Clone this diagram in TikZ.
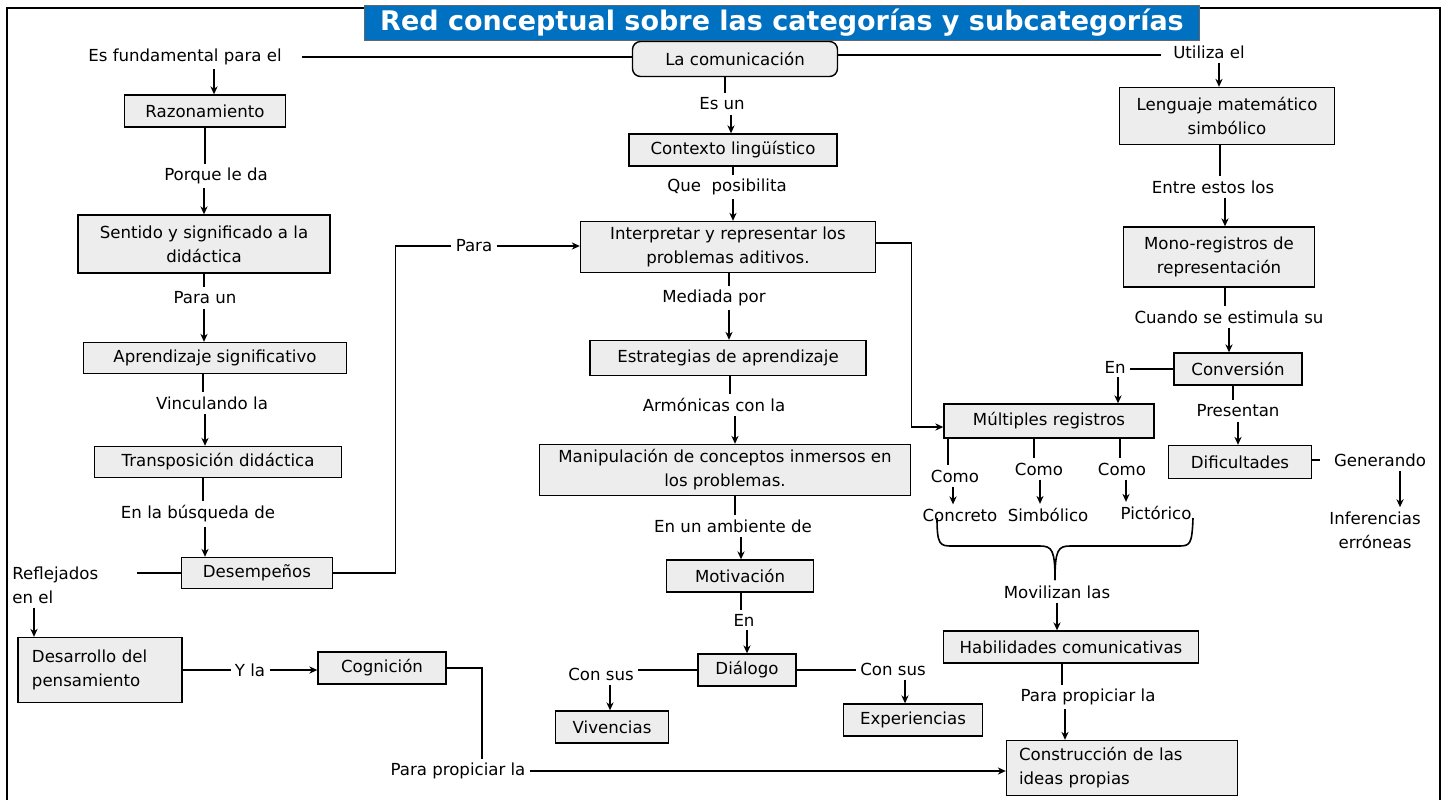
\documentclass[tikz,border=0pt]{standalone}
\usepackage{fontspec}
\setmainfont{DejaVu Sans}
\usetikzlibrary{arrows.meta}
\definecolor{boxgray}{HTML}{EDEDED}
\definecolor{titleblue}{HTML}{0070C0}
\begin{document}
\begin{tikzpicture}[x=0.5pt,y=-0.5pt,
 every node/.style={font=\fontsize{8.3}{12}\selectfont, inner sep=2pt},
 box/.style={draw, fill=boxgray, line width=0.7pt, align=center},
 lbl/.style={align=center},
 con/.style={line width=0.6pt},
 arr/.style={line width=0.6pt, -{Stealth[length=4pt,width=3.6pt]}},
 sz/.style 2 args={minimum width=#1*0.5pt, minimum height=#2*0.5pt},
]
\useasboundingbox (0,0) rectangle (1450,800);
\draw[line width=0.8pt] (7,800) -- (7,8) -- (1440,8) -- (1440,800);
\node[fill=titleblue, draw=black!60, line width=0.6pt, sz={835}{35}, text=white, font=\fontsize{13.5}{15}\selectfont\bfseries] (title) at (782,23) {Red conceptual sobre las categorías y subcategorías};

% boxes
\node[box, rounded corners=4pt, sz={205}{35}] (com) at (735,59) {La comunicación};
\node[box, sz={161}{32}] (raz) at (205,111) {Razonamiento};
\node[box, sz={252}{58}] (sen) at (204,244) {Sentido y significado a la\\didáctica};
\node[box, sz={263}{31}] (apr) at (215,358) {Aprendizaje significativo};
\node[box, sz={247}{31}] (tra) at (218,462) {Transposición didáctica};
\node[box, sz={151}{31}] (des) at (257,573) {Desempeños};
\node[box, sz={164}{65}, align=left, inner xsep=7pt, text width=68pt] (dpe) at (100,670) {Desarrollo del\\pensamiento};
\node[box, sz={128}{32}] (cog) at (382,668) {Cognición};
\node[box, sz={208}{32}] (ctx) at (733,150) {Contexto lingüístico};
\node[box, sz={295}{51}] (int) at (728,247) {Interpretar y representar los\\problemas aditivos.};
\node[box, sz={276}{35}] (est) at (728,358) {Estrategias de aprendizaje};
\node[box, sz={371}{51}] (man) at (725,470) {Manipulación de conceptos inmersos en\\los problemas.};
\node[box, sz={147}{32}] (mot) at (740,576) {Motivación};
\node[box, sz={98}{32}] (dia) at (747,670) {Diálogo};
\node[box, sz={113}{32}] (viv) at (612,727) {Vivencias};
\node[box, sz={139}{32}] (exp) at (913,720) {Experiencias};
\node[box, sz={215}{57}] (len) at (1227,116) {Lenguaje matemático\\simbólico};
\node[box, sz={191}{60}] (mon) at (1219,257) {Mono-registros de\\representación};
\node[box, sz={128}{32}] (conv) at (1238,369) {Conversión};
\node[box, sz={210}{34}] (mul) at (1049,421) {Múltiples registros};
\node[box, sz={143}{33}] (dif) at (1240,462) {Dificultades};
\node[box, sz={255}{32}] (hab) at (1071,647) {Habilidades comunicativas};
\node[box, sz={231}{55}, align=left, inner xsep=6pt, text width=103pt] (cons) at (1122,768) {Construcción de las\\ideas propias};

% labels
\node[lbl] (l1) at (185,57) {Es fundamental para el};
\node[lbl] (l2) at (216,176) {Porque le da};
\node[lbl] (l3) at (205,298) {Para un};
\node[lbl] (l4) at (212,403) {Vinculando la};
\node[lbl] (l5) at (198,514) {En la búsqueda de};
\node[lbl] (l6) at (474,246) {Para};
\node[lbl, align=left, anchor=north west] (l7) at (8,562) {Reflejados\\en el};
\node[lbl] (l8) at (250,670) {Y la};
\node[lbl] (l9) at (458,771) {Para propiciar la};
\node[lbl] (r1) at (722,104) {Es un};
\node[lbl] (r2) at (727,187) {Que\ \ posibilita};
\node[lbl] (r3) at (714,298) {Mediada por};
\node[lbl] (r4) at (714,405) {Armónicas con la};
\node[lbl] (r5) at (733,526) {En un ambiente de};
\node[lbl] (r6) at (744,620) {En};
\node[lbl] (r7) at (601,674) {Con sus};
\node[lbl] (r8) at (893,669) {Con sus};
\node[lbl] (u1) at (1209,52) {Utiliza el};
\node[lbl] (u2) at (1213,187) {Entre estos los};
\node[lbl] (u3) at (1229,317) {Cuando se estimula su};
\node[lbl] (u4) at (1115,367) {En};
\node[lbl] (u5) at (1238,411) {Presentan};
\node[lbl] (u6) at (1380,460) {Generando};
\node[lbl] (u7) at (1375,530) {Inferencias\\erróneas};
\node[lbl] (c1) at (955,476) {Como};
\node[lbl] (c2) at (1039,469) {Como};
\node[lbl] (c3) at (1122,469) {Como};
\node[lbl] (k1) at (960,515) {Concreto};
\node[lbl] (k2) at (1048,515) {Simbólico};
\node[lbl] (k3) at (1156,513) {Pictórico};
\node[lbl] (m1) at (1057,592) {Movilizan las};
\node[lbl] (p1) at (1088,697) {Para propiciar la};

% coordinates
\coordinate (rj) at (137,573);
\coordinate (cg) at (482,664);
\coordinate (bl) at (937,518);
\coordinate (br) at (1193,518);
\coordinate (bt) at (1055,580);

% left column
\draw[con] ([yshift=1pt]com.west) -- ([yshift=1pt,xshift=8pt]com.west -| l1.east);
\draw[arr] (l1.south -| 214,0) -- (raz.north -| 214,0);
\draw[con] (raz.south) -- (raz.south |- l2.north);
\draw[arr] (l2.south -| sen.north) -- (sen.north);
\draw[con] (sen.south) -- (sen.south |- l3.north);
\draw[arr] (l3.south -| sen.south) -- (sen.south |- apr.north);
\draw[con] (apr.south -| 203,0) -- (l4.north -| 203,0);
\draw[arr] (l4.south -| 205,0) -- (tra.north -| 205,0);
\draw[con] (tra.south -| 203,0) -- (l5.north -| 203,0);
\draw[arr] (l5.south -| 205,0) -- (des.north -| 205,0);
\draw[con] (des.east) -- ++(62,0) |- (l6.west);
\draw[arr] (l6.east) -- (l6.east -| int.west);
\draw[con] (des.west) -- (rj);
\draw[arr] ([xshift=13pt]l7.south west) -- ([xshift=13pt]l7.south west |- dpe.north);
\draw[con] (dpe.east) -- (dpe.east -| l8.west);
\draw[arr] (l8.east) -- (l8.east -| cog.west);
\draw[con] (cog.east) -- (cog.east -| cg) -- (cg |- l9.north);
\draw[arr] (l9.east) -- (l9.east -| cons.west);

% middle column
\draw[con] (com.south -| 725,0) -- (r1.north -| 725,0);
\draw[arr] (r1.south -| 731,0) -- (ctx.north -| 731,0);
\draw[con] (ctx.south) -- (ctx.south |- r2.north);
\draw[arr] (r2.south -| ctx.south) -- (ctx.south |- int.north);
\draw[con] (int.south -| 729,0) -- (r3.north -| 729,0);
\draw[arr] (r3.south -| 729,0) -- (est.north -| 729,0);
\draw[con] (est.south -| 730,0) -- (r4.north -| 730,0);
\draw[arr] (r4.south -| 735,0) -- (man.north -| 735,0);
\draw[con] (man.south -| 735,0) -- (r5.north -| 735,0);
\draw[arr] (r5.south -| 741,0) -- (mot.north -| 741,0);
\draw[con] (mot.south -| 741,0) -- (r6.north -| 741,0);
\draw[arr] (r6.south -| dia.north) -- (dia.north);
\draw[con] (dia.west) -- (dia.west -| r7.east);
\draw[arr] (r7.south -| 610,0) -- (viv.north -| 610,0);
\draw[con] (dia.east) -- (dia.east -| r8.west);
\draw[arr] (r8.south -| 905,0) -- (exp.north -| 905,0);
\draw[arr] ([yshift=2pt]int.east) -- ++(35,0) |- ([yshift=-3pt]mul.west);

% right column
\draw[con] ([yshift=2pt]com.east) -- ([yshift=2pt,xshift=-4pt]com.east -| u1.west);
\draw[arr] (u1.south -| 1219,0) -- (len.north -| 1219,0);
\draw[con] (len.south -| 1220,0) -- (u2.north -| 1220,0);
\draw[arr] (u2.south -| 1225,0) -- (mon.north -| 1225,0);
\draw[con] (mon.south -| 1225,0) -- (u3.north -| 1225,0);
\draw[arr] (u3.south -| 1229,0) -- (conv.north -| 1229,0);
\draw[con] (conv.west) -- (conv.west -| u4.east);
\draw[arr] (u4.south -| 1118,0) -- (mul.north -| 1118,0);
\draw[con] (conv.south -| 1233,0) -- (u5.north -| 1233,0);
\draw[arr] (u5.south -| 1238,0) -- (dif.north -| 1238,0);
\draw[con] ([yshift=1pt]dif.east) -- ([yshift=1pt,xshift=-5pt]dif.east -| u6.west);
\draw[arr] ([xshift=10pt]u6.south) -- ([xshift=10pt]u6.south |- u7.north);

% registros
\draw[con] (mul.south -| 948,0) -- (c1.north -| 948,0);
\draw[arr] (c1.south -| 953,0) -- (k1.north -| 953,0);
\draw[con] (mul.south -| 1034,0) -- (c2.north -| 1034,0);
\draw[arr] (c2.south -| 1040,0) -- (k2.north -| 1040,0);
\draw[con] (mul.south -| 1120,0) -- (c3.north -| 1120,0);
\draw[arr] (c3.south -| 1126,0) -- (k3.north -| 1126,0);

% brace
\draw[line width=0.8pt] (bl) .. controls (937,545) and (940,546) .. (952,546) -- (1040,546) .. controls (1052,546) and (1055,550) .. (bt);
\draw[line width=0.8pt] (br) .. controls (1192,545) and (1190,546) .. (1178,546) -- (1070,546) .. controls (1058,546) and (1055,550) .. (bt);
\draw[arr] (m1.south) -- (m1.south |- hab.north);
\draw[con] (hab.south -| 1062,0) -- (p1.north -| 1062,0);
\draw[arr] (p1.south -| 1065,0) -- (cons.north -| 1065,0);
\end{tikzpicture}
\end{document}
